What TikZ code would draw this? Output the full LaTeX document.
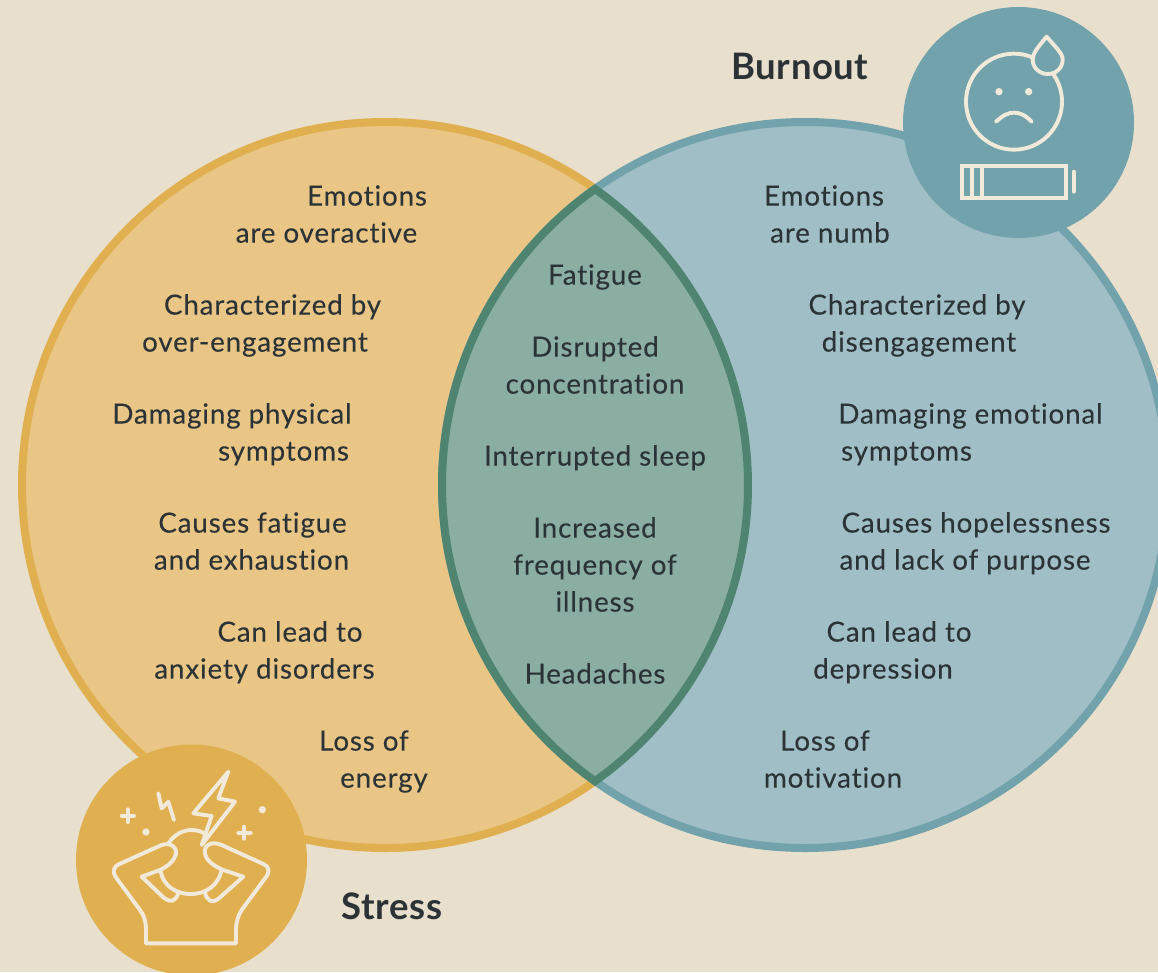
\documentclass[tikz,border=0pt]{standalone}
\usepackage{fontspec}
\newfontfamily\bodyf[LetterSpace=3.0,FakeBold=0.12,Ligatures=NoCommon]{Lato}
\newfontfamily\titlef[Ligatures=NoCommon,LetterSpace=1.5]{Lato}
\definecolor{bgc}{HTML}{E9DFCD}
\definecolor{lfill}{HTML}{E9C685}
\definecolor{lline}{HTML}{E0B050}
\definecolor{rfill}{HTML}{A0BEC6}
\definecolor{rline}{HTML}{72A2AB}
\definecolor{mfill}{HTML}{8BAEA3}
\definecolor{mline}{HTML}{4F8570}
\definecolor{txt}{HTML}{2B3336}
\definecolor{ico}{HTML}{F1E9DA}
\tikzset{
  lbl/.style={anchor=base,inner sep=0pt,text=txt,font=\bodyf\fontsize{27.8}{33}\selectfont},
  ttl/.style={anchor=base,inner sep=0pt,text=txt,font=\titlef\fontsize{36.5}{40}\selectfont\bfseries},
  icon/.style={draw=ico,line width=3.9pt,line cap=round,line join=round},
  icondot/.style={fill=ico,draw=none}
}
\begin{document}
\begin{tikzpicture}[x=1pt,y=-1pt]
\useasboundingbox (0,0) rectangle (1158,972);
\fill[bgc] (0,0) rectangle (1158,972);
\begin{scope}
\clip (0,0) rectangle (1158,972);
\draw[lline,fill=lfill,line width=8pt] (385,485) circle[radius=363pt];
\draw[rline,fill=rfill,line width=8pt] (805,485) circle[radius=363pt];
\begin{scope}[shift={(0,972)},y=1pt]
\draw[mline,fill=mfill,line width=8pt,line join=miter] (595,783)
  arc[start angle=54.65,end angle=-54.65,radius=363pt]
  arc[start angle=234.65,end angle=125.35,radius=363pt] -- cycle;
\end{scope}
\fill[lline] (191.5,860) circle[radius=115.5pt];
\fill[rline] (1018.5,122.5) circle[radius=115.5pt];
\end{scope}

% Stress icon
\begin{scope}[shift={(60,730)},x=0.33333pt,y=-0.33333pt]
\draw[icon] (325,340) .. controls (345,312) and (370,300) .. (395,300) .. controls (412,300) and (430,305) .. (445,318);
\draw[icon] (302,425) .. controls (310,465) and (345,492) .. (392,492) .. controls (440,492) and (475,465) .. (485,420);
\draw[icon] (258,640) -- (528,640) -- (528,600) .. controls (528,575) and (535,555) .. (545,540)
  -- (615,445) .. controls (632,425) and (628,410) .. (610,402) -- (485,345)
  .. controls (450,330) and (430,350) .. (435,370) .. controls (438,392) and (462,408) .. (490,420)
  -- (550,440) -- (480,502) .. controls (455,525) and (440,510) .. (435,488);
\draw[icon] (258,640) -- (258,600) .. controls (258,575) and (252,555) .. (240,540)
  -- (170,445) .. controls (155,425) and (160,410) .. (178,402) -- (305,345)
  .. controls (335,335) and (352,355) .. (348,372) .. controls (343,392) and (325,408) .. (300,420)
  -- (245,440) -- (310,502) .. controls (335,522) and (350,510) .. (355,488);
\draw[icon] (505,125) -- (400,250) -- (455,258) -- (425,345) -- (525,215) -- (475,205) -- cycle;
\draw[icon] (295,190) -- (305,235) -- (325,215) -- (342,270);
\draw[icon] (185,257) -- (222,257) (203,238) -- (203,276);
\draw[icon] (535,308) -- (572,308) (553,290) -- (553,326);
\fill[icondot] (258,306) circle[radius=11];
\fill[icondot] (607,239) circle[radius=11];
\end{scope}

% Burnout icon
\begin{scope}[shift={(890,0)},x=0.33333pt,y=-0.33333pt]
\draw[icon] (372,305) circle[radius=144pt*0.33333];
\draw[icon,fill=rline] (470,110) .. controls (445,140) and (428,160) .. (428,178)
  .. controls (428,205) and (450,222) .. (473,222) .. controls (497,222) and (518,205) .. (518,178)
  .. controls (518,160) and (495,140) .. (470,110) -- cycle;
\fill[icondot] (327,275) circle[radius=11];
\fill[icondot] (416,275) circle[radius=11];
\draw[icon] (318,365) .. controls (340,345) and (355,338) .. (372,338) .. controls (390,338) and (405,345) .. (425,365);
\draw[icon,line cap=butt,line join=miter] (216,497) rectangle (528,595);
\draw[icon,line cap=butt] (245,497) -- (245,595) (275,497) -- (275,595);
\draw[icon] (551,515) -- (551,575);
\end{scope}

% Titles
\node[ttl] (burnout) at (800,79) {Burnout};
\node[ttl] (stress) at (392,919) {Stress};

% Left column
\node[lbl] (l1a) at (367,205.6) {Emotions};
\node[lbl] (l1b) at (326.5,242.6) {are overactive};
\node[lbl] (l2a) at (272.5,314.6) {Characterized by};
\node[lbl] (l2b) at (255,351.6) {over-engagement};
\node[lbl] (l3a) at (232,423.6) {Damaging physical};
\node[lbl] (l3b) at (283.5,460.6) {symptoms};
\node[lbl] (l4a) at (252.5,532.6) {Causes fatigue};
\node[lbl] (l4b) at (251.5,569.6) {and exhaustion};
\node[lbl] (l5a) at (290,641.6) {Can lead to};
\node[lbl] (l5b) at (264.5,678.6) {anxiety disorders};
\node[lbl] (l6a) at (364,750.6) {Loss of};
\node[lbl] (l6b) at (384,787.6) {energy};

% Middle column
\node[lbl] (m1) at (595,284.6) {Fatigue};
\node[lbl] (m2a) at (595,356.6) {Disrupted};
\node[lbl] (m2b) at (595,393.6) {concentration};
\node[lbl] (m3) at (595,465.6) {Interrupted sleep};
\node[lbl] (m4a) at (595,537.6) {Increased};
\node[lbl] (m4b) at (595,574.6) {frequency of};
\node[lbl] (m4c) at (595,611.6) {illness};
\node[lbl] (m5) at (595,683.6) {Headaches};

% Right column
\node[lbl] (r1a) at (824,205.6) {Emotions};
\node[lbl] (r1b) at (830,242.6) {are numb};
\node[lbl] (r2a) at (917,314.6) {Characterized by};
\node[lbl] (r2b) at (919,351.6) {disengagement};
\node[lbl] (r3a) at (970.5,423.6) {Damaging emotional};
\node[lbl] (r3b) at (906.5,460.6) {symptoms};
\node[lbl] (r4a) at (976,532.6) {Causes hopelessness};
\node[lbl] (r4b) at (965,569.6) {and lack of purpose};
\node[lbl] (r5a) at (899,641.6) {Can lead to};
\node[lbl] (r5b) at (883,678.6) {depression};
\node[lbl] (r6a) at (825,750.6) {Loss of};
\node[lbl] (r6b) at (833,787.6) {motivation};
\end{tikzpicture}
\end{document}
